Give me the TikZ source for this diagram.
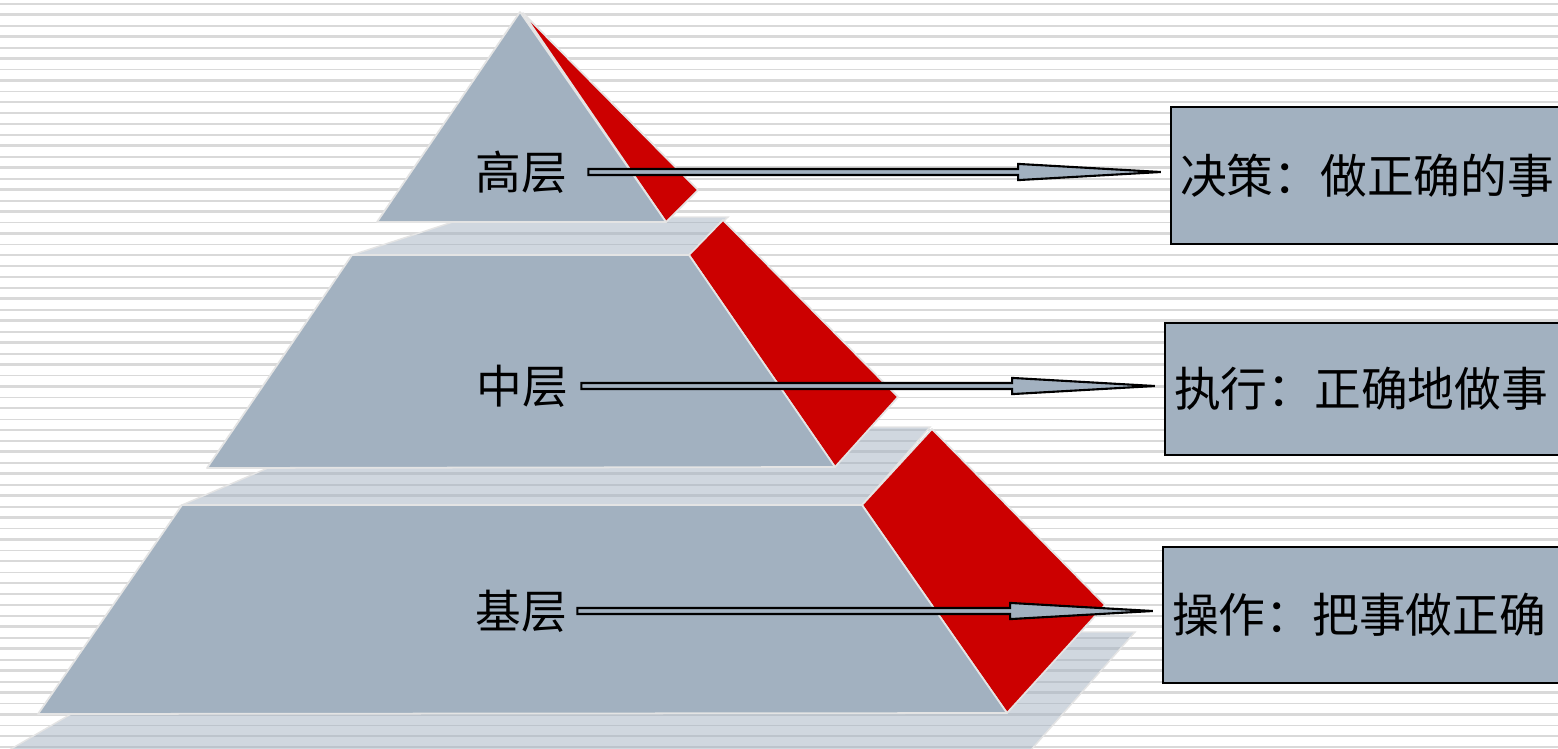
\documentclass[tikz,border=0pt]{standalone}
\usepackage{fontspec}
\newfontfamily\cjk{Noto Sans CJK SC}
\usetikzlibrary{calc}
\definecolor{slate}{HTML}{A2B1C0}
\definecolor{pyrred}{HTML}{CC0000}
\definecolor{bgline}{HTML}{D9D9D9}
\definecolor{faceedge}{HTML}{E4E4E4}
\tikzset{
  face/.style={fill=slate, draw=faceedge, line width=0.5pt, line join=round},
  side/.style={fill=pyrred, draw=faceedge, line width=0.5pt, line join=round},
  shelf/.style={fill=slate, fill opacity=0.5, draw=faceedge, line width=0.4pt},
  thinrule/.style={draw=bgline, line width=0.48pt},
  thickrule/.style={draw=bgline, line width=0.77pt},
  layerlabel/.style={font=\cjk\fontsize{13}{15}\selectfont, inner sep=0pt},
  actionbox/.style={draw=black, line width=0.6pt, fill=slate, anchor=north west,
    text width=4.3cm, align=left, inner xsep=0.09cm,
    font=\cjk\fontsize{13.3}{16}\selectfont},
  blockarrow/.style={fill=slate, draw=black, line width=0.6pt, line join=miter},
}
\newcommand\layerarrow[3]{%
  \draw[blockarrow] let \p1=($(#1.east)+(#3,0)$), \p2=(#2.west) in
    (\x1,\y1+0.85pt) -- (\x2-43.2pt,\y1+0.85pt) -- (\x2-43.2pt,\y1+2.3pt)
    -- (\x2-2.6pt,\y1) -- (\x2-43.2pt,\y1-2.3pt) -- (\x2-43.2pt,\y1-0.85pt)
    -- (\x1,\y1-0.85pt) -- cycle;}
\begin{document}
\begin{tikzpicture}[x=0.01cm, y=-0.01cm]
\useasboundingbox (0,0) rectangle (1558,748);
\clip (0,0) rectangle (1558,748);
\fill[white] (0,0) rectangle (1558,748);
% background rules
\foreach \k in {0,...,68}{
  \pgfmathtruncatemacro{\ruleparity}{mod(\k,2)}
  \ifnum\ruleparity=0
    \draw[thinrule] (0,{4+10.93*\k}) -- (1558,{4+10.93*\k});
  \else
    \draw[thickrule] (0,{3.7+10.93*\k}) -- (1558,{3.7+10.93*\k});
  \fi
}
% shelves (translucent floors)
\path[shelf] (212,632) -- (1135,632) -- (1022,760) -- (-8,760) -- cycle;
\path[shelf] (363,427) -- (930,427) -- (862,505) -- (182,505) -- cycle;
\path[shelf] (468,217) -- (728,217) -- (689,255) -- (352,255) -- cycle;
% bottom layer
\path[side] (862,505) -- (932,429) -- (1105,605) -- (1007,713) -- cycle;
\path[face] (182,505) -- (862,505) -- (1007,713) -- (38,714) -- cycle;
% middle layer
\path[side] (689,255) -- (723,220) -- (898,397) -- (835,467) -- cycle;
\path[face] (352,255) -- (689,255) -- (835,467) -- (207,468) -- cycle;
% top layer
\path[side] (523,13) -- (698,190) -- (666,222) -- cycle;
\path[face] (520,12) -- (666,222) -- (377,222) -- cycle;
% labels
\node[layerlabel] (top) at (521,172) {高层};
\node[layerlabel] (mid) at (522,386) {中层};
\node[layerlabel] (base) at (521,611) {基层};
% boxes
\node[actionbox, minimum height=1.37cm] (b1) at (1170,106) {决策：做正确的事};
\node[actionbox, minimum height=1.32cm] (b2) at (1164,322) {执行：正确地做事};
\node[actionbox, minimum height=1.36cm] (b3) at (1162,546) {操作：把事做正确};
% arrows
\layerarrow{top}{b1}{21}
\layerarrow{mid}{b2}{13}
\layerarrow{base}{b3}{10}
\end{tikzpicture}
\end{document}
